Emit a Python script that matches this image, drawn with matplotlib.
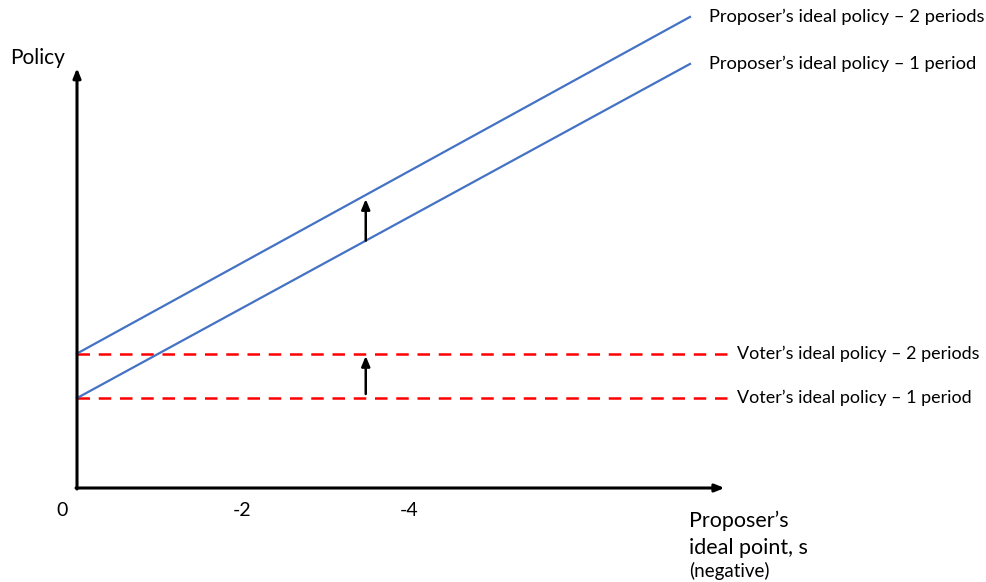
import matplotlib
matplotlib.use("Agg")
import matplotlib.pyplot as plt

plt.rcParams['font.family'] = ['Lato', 'DejaVu Sans']

# Data (conceptual units: x = |s|, y = policy)
line_x = [0.0, 7.43]
proposer_1 = [1.09, 5.14]
proposer_2 = [1.63, 5.71]
voter_x = [0.0, 7.89]
voter_1 = 1.09
voter_2 = 1.63
shift_x = 3.5
tick_pos = [-0.18, 2.0, 4.02]
tick_labels = ["0", "-2", "-4"]
x_axis_end = 7.85
y_axis_end = 5.09

labels = {
    "p2": "Proposer\u2019s ideal policy \u2013 2 periods",
    "p1": "Proposer\u2019s ideal policy \u2013 1 period",
    "v2": "Voter\u2019s ideal policy \u2013 2 periods",
    "v1": "Voter\u2019s ideal policy \u2013 1 period",
}

scale = 82.5
W, H = 986, 582
ox, oy = 77, 488

fig = plt.figure(figsize=(W / 100, H / 100), dpi=100)
ax = fig.add_axes([0, 0, 1, 1])
ax.set_xlim(-ox / scale, (W - ox) / scale)
ax.set_ylim(-(H - oy) / scale, oy / scale)
ax.axis('off')

blue = '#4472C4'
red = '#FF0000'

# axes
arrow_kw = dict(arrowstyle='-|>,head_length=0.55,head_width=0.22', color='black', lw=2.2,
                shrinkA=0, shrinkB=0)
ax.annotate('', xy=(0, y_axis_end), xytext=(0, -0.012), arrowprops=arrow_kw)
ax.annotate('', xy=(x_axis_end, 0), xytext=(-0.012, 0), arrowprops=arrow_kw)

# voter lines
ax.plot(voter_x, [voter_2, voter_2], color=red, lw=1.8, ls=(0, (5, 3.5)))
ax.plot(voter_x, [voter_1, voter_1], color=red, lw=1.8, ls=(0, (5, 3.5)))

# proposer lines
ax.plot(line_x, proposer_2, color=blue, lw=1.6)
ax.plot(line_x, proposer_1, color=blue, lw=1.6)

# shift arrows
def interp(xv, xs, ys):
    return ys[0] + (ys[1] - ys[0]) * (xv - xs[0]) / (xs[1] - xs[0])

sarrow = dict(arrowstyle='-|>,head_length=0.6,head_width=0.25', color='black', lw=1.8,
              shrinkA=0, shrinkB=0)
ax.annotate('', xy=(shift_x, interp(shift_x, line_x, proposer_2) - 0.05),
            xytext=(shift_x, interp(shift_x, line_x, proposer_1) + 0.0), arrowprops=sarrow)
ax.annotate('', xy=(shift_x, voter_2 - 0.03), xytext=(shift_x, voter_1 + 0.05), arrowprops=sarrow)

fs = 13.2
fsv = 12.9
# right labels
ax.text(line_x[1] + 0.23, proposer_2[1], labels["p2"], fontsize=fs, va='center', ha='left')
ax.text(line_x[1] + 0.23, proposer_1[1], labels["p1"], fontsize=fs, va='center', ha='left')
ax.text(voter_x[1] + 0.11, voter_2, labels["v2"], fontsize=fsv, va='center', ha='left')
ax.text(voter_x[1] + 0.11, voter_1, labels["v1"], fontsize=fsv, va='center', ha='left')

# tick labels
for p, t in zip(tick_pos, tick_labels):
    ax.text(p, -0.27, t, fontsize=14, ha='center', va='center')

# axis titles
ax.text(-0.81, 5.21, "Policy", fontsize=15, ha='left', va='center')
ax.text(7.42, -0.40, "Proposer\u2019s", fontsize=15.5, ha='left', va='center')
ax.text(7.42, -0.73, "ideal point, s", fontsize=15.5, ha='left', va='center')
ax.text(7.42, -1.01, "(negative)", fontsize=13.5, ha='left', va='center')

fig.savefig('out.png', dpi=100)
